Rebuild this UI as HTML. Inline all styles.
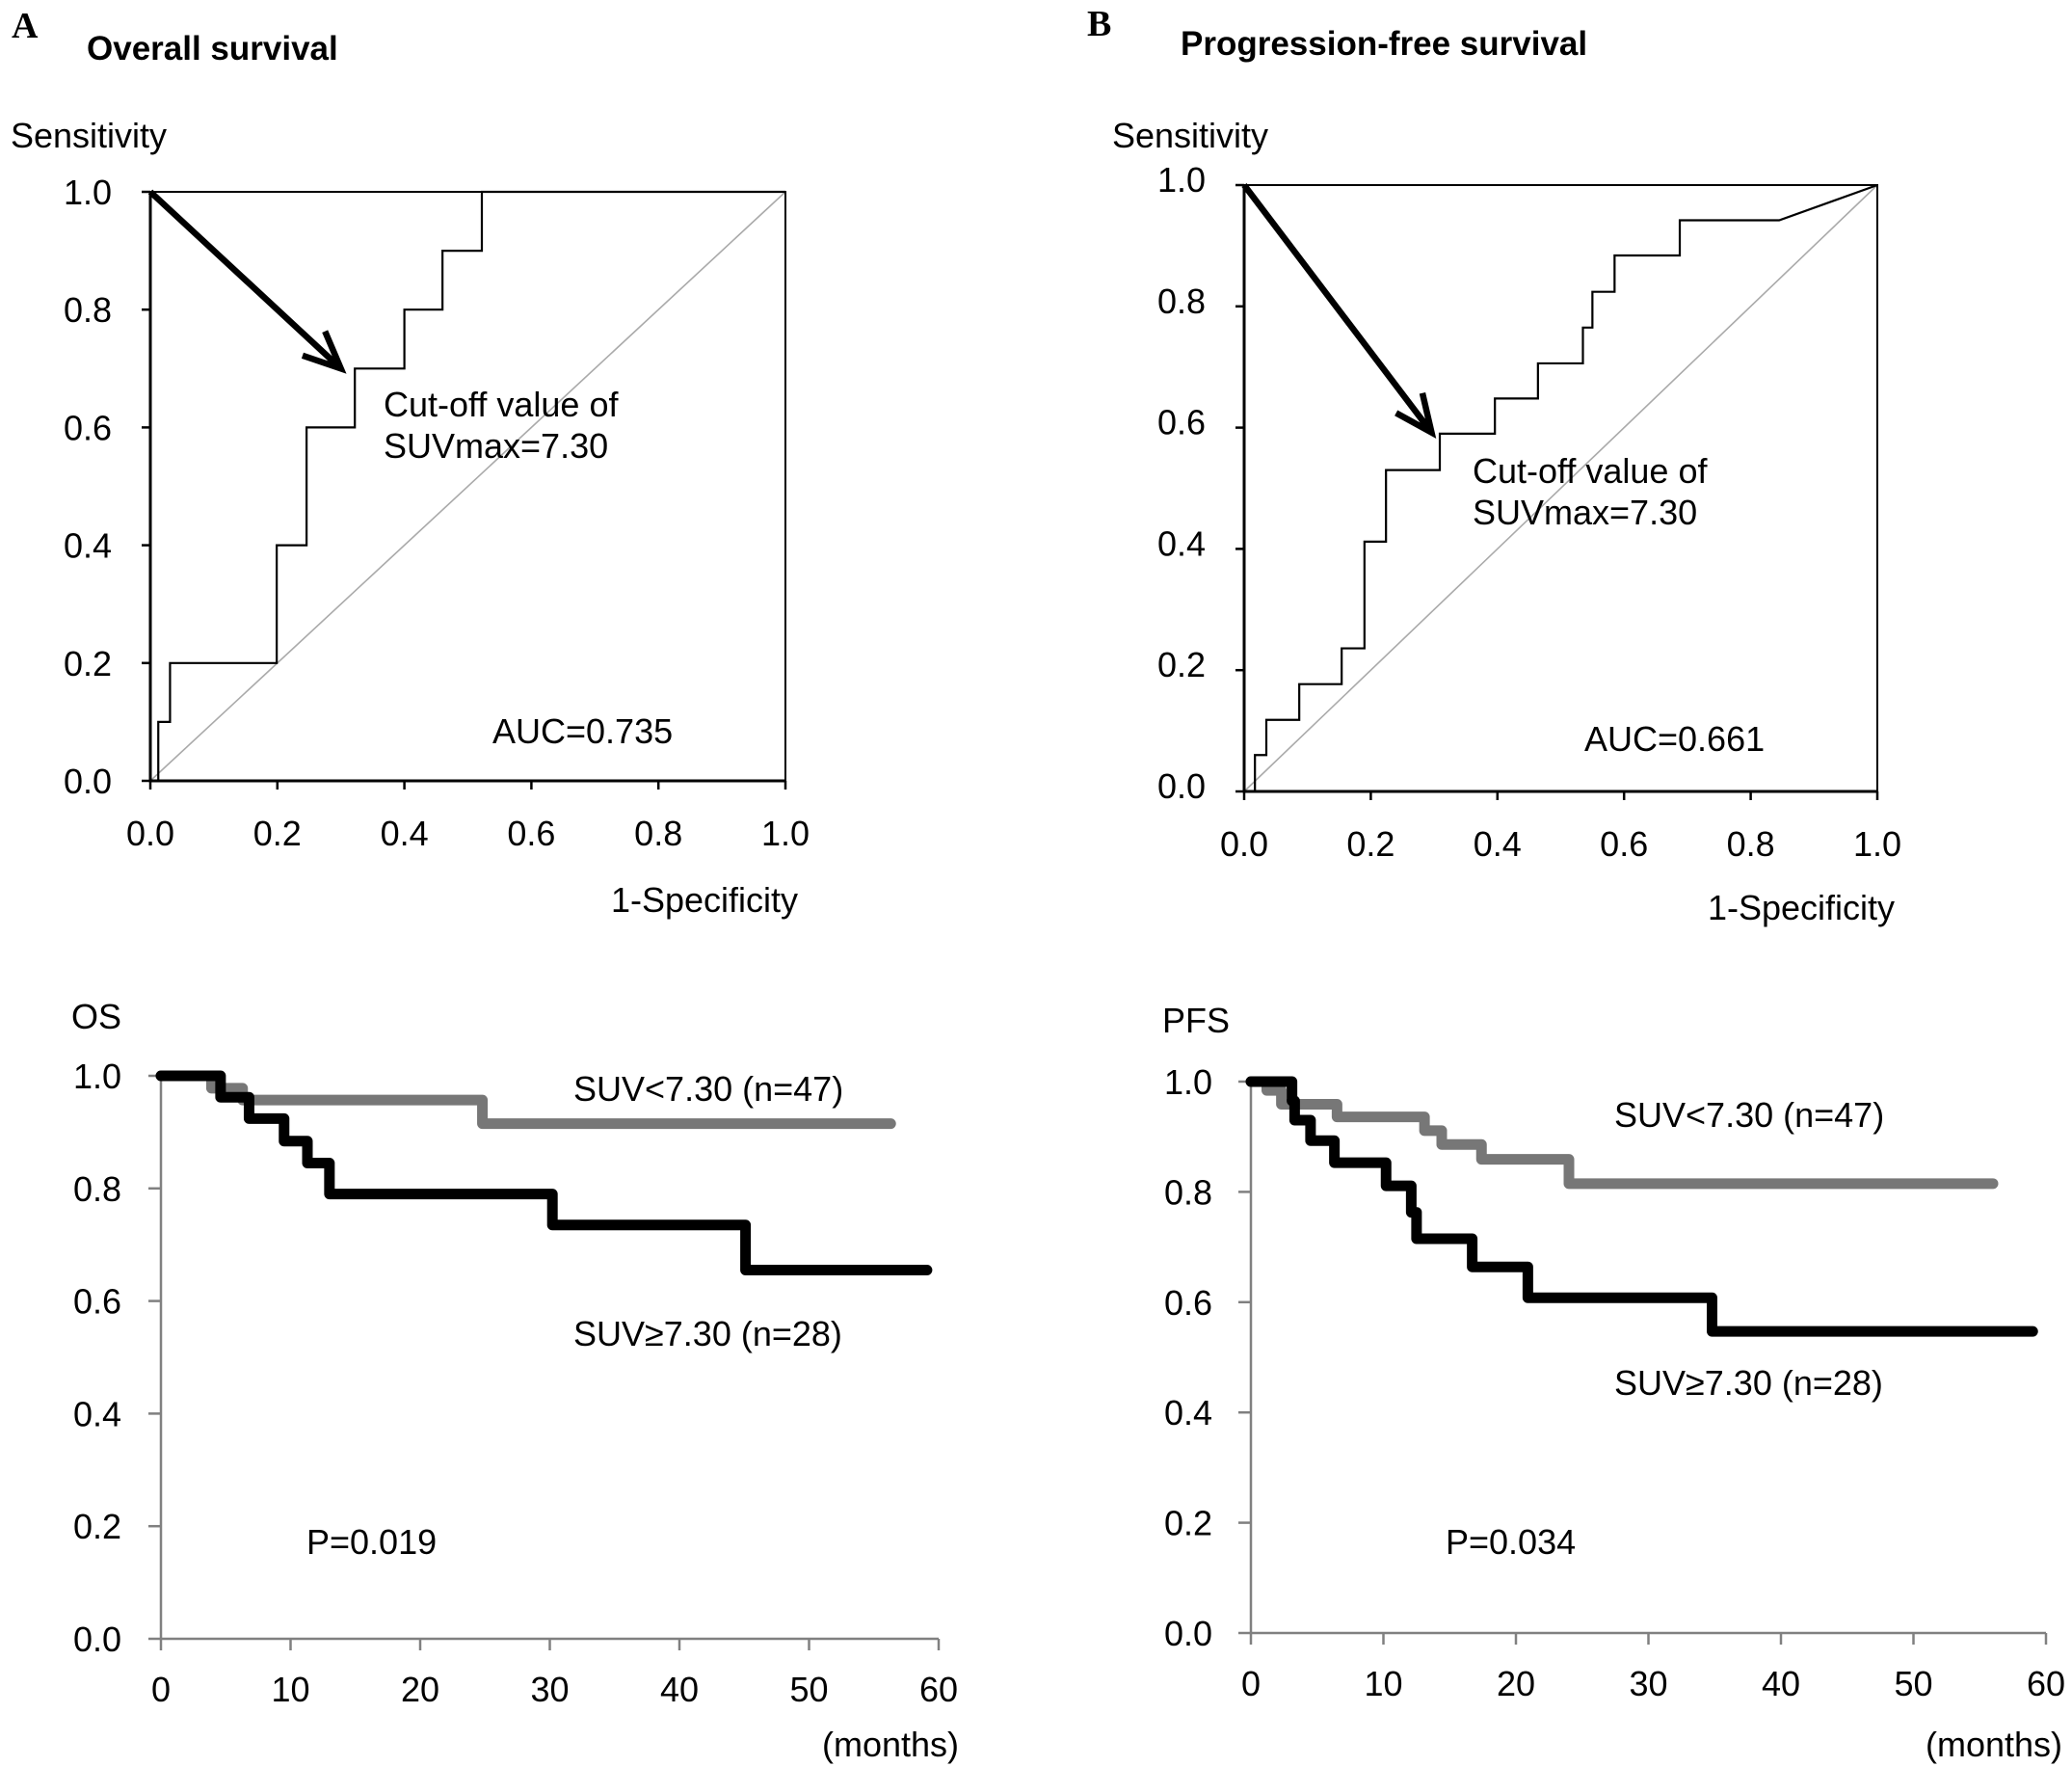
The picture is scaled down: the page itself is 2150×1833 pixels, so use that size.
<!DOCTYPE html>
<html><head><meta charset="utf-8">
<style>
html,body{margin:0;padding:0;background:#fff;}
svg{display:block;}
text{font-family:"Liberation Sans",Arial,sans-serif;fill:#000;}
</style></head>
<body>
<svg id="fig" width="2150" height="1833" viewBox="0 0 2150 1833" xmlns="http://www.w3.org/2000/svg">
<text x="12" y="39" style="font-family:'Liberation Serif',serif;font-weight:bold;font-size:38px">A</text>
<text x="90" y="62" style="font-weight:bold;font-size:35px">Overall survival</text>
<text x="1128" y="37" style="font-family:'Liberation Serif',serif;font-weight:bold;font-size:38px">B</text>
<text x="1225" y="57" style="font-weight:bold;font-size:35px">Progression-free survival</text>
</svg>
<script>
// ---- data ----
const rocTicks = ["0.0","0.2","0.4","0.6","0.8","1.0"];
const kmXTicks = ["0","10","20","30","40","50","60"];
const kmYTicks = ["0.0","0.2","0.4","0.6","0.8","1.0"];
const rocA_fpr = [0.0125,0.0125,0.031,0.031,0.199,0.199,0.246,0.246,0.322,0.322,0.40,0.40,0.46,0.46,0.522,0.522,1.0];
const rocA_tpr = [0.0,0.1,0.1,0.2,0.2,0.4,0.4,0.6,0.6,0.7,0.7,0.8,0.8,0.9,0.9,1.0,1.0];
const rocB_fpr = [0.017,0.017,0.035,0.035,0.087,0.087,0.154,0.154,0.19,0.19,0.224,0.224,0.309,0.309,0.396,0.396,0.464,0.464,0.535,0.535,0.55,0.55,0.585,0.585,0.688,0.688,0.845,1.0];
const rocB_tpr = [0.0,0.06,0.06,0.118,0.118,0.177,0.177,0.236,0.236,0.412,0.412,0.53,0.53,0.59,0.59,0.648,0.648,0.706,0.706,0.765,0.765,0.824,0.824,0.884,0.884,0.942,0.942,1.0];
const arrowA = [0.30,0.70];
const arrowB = [0.296,0.592];
const osLow_t = [0,3.9,6.3,24.8,56.3];
const osLow_s = [1.0,0.978,0.957,0.915,0.915];
const osHigh_t = [0,4.6,6.8,9.5,11.3,13.0,30.2,45.1,59.1];
const osHigh_s = [1.0,0.962,0.924,0.884,0.845,0.79,0.735,0.655,0.655];
const pfsLow_t = [0,1.2,2.3,6.5,13.1,14.4,17.4,24.0,56.0];
const pfsLow_s = [1.0,0.984,0.959,0.936,0.911,0.886,0.859,0.815,0.815];
const pfsHigh_t = [0,3.1,3.3,4.5,6.3,10.2,12.1,12.5,16.7,20.9,34.8,59.0];
const pfsHigh_s = [1.0,0.965,0.93,0.893,0.853,0.811,0.763,0.715,0.664,0.608,0.547,0.547];

const NS="http://www.w3.org/2000/svg";
const svg=document.getElementById('fig');
const FS=36;
function mk(tag,attrs,parent){const e=document.createElementNS(NS,tag);for(const k in attrs)e.setAttribute(k,attrs[k]);(parent||svg).appendChild(e);return e;}
function txt(s,x,y,size,anchor,parent){const t=mk('text',{x:x,y:y,'font-size':size,'text-anchor':anchor||'start'},parent);t.textContent=s;return t;}
function stepPath(xs,ys,sx,sy,stepwise){let d='M'+sx(xs[0])+','+sy(ys[0]);for(let i=1;i<xs.length;i++){if(stepwise){d+=' L'+sx(xs[i])+','+sy(ys[i-1])+' L'+sx(xs[i])+','+sy(ys[i]);}else d+=' L'+sx(xs[i])+','+sy(ys[i]);}return d;}

function roc(name,box,fpr,tpr,arrow,opts){
  const g=mk('g',{});
  
  
  const sx=v=>box.x0+v*(box.x1-box.x0), sy=v=>box.y0-v*(box.y0-box.y1);
  const diag=mk('line',{x1:sx(0),y1:sy(0),x2:sx(1),y2:sy(1),stroke:'#aaa','stroke-width':1.6},g);
  
  
  const fr=mk('path',{d:`M${sx(0)},${sy(1)} L${sx(1)},${sy(1)} L${sx(1)},${sy(0)}`,fill:'none',stroke:'#000','stroke-width':2},g);
  
  
  const ax=mk('path',{d:`M${sx(0)},${sy(1)} L${sx(0)},${sy(0)} L${sx(1)},${sy(0)}`,fill:'none',stroke:'#000','stroke-width':3},g);
  
  
  rocTicks.forEach((t,i)=>{const v=i/5;
    mk('line',{x1:sx(0)-9,y1:sy(v),x2:sx(0),y2:sy(v),stroke:'#000','stroke-width':2.5},g);
    mk('line',{x1:sx(v),y1:sy(0),x2:sx(v),y2:sy(0)+9,stroke:'#000','stroke-width':2.5},g);
    const yl=txt(t,box.x0-40,sy(v)+13+opts.yoff,FS,'end',g);
    
    
    const xl=txt(t,sx(v),opts.xtb,FS,'middle',g);
    
    
  });
  const c=mk('path',{d:stepPath(fpr,tpr,sx,sy,false),fill:'none',stroke:'#000','stroke-width':2.2},g);
  
  
  const x0=sx(0),y0=sy(1),x1=sx(arrow[0]),y1=sy(arrow[1]);
  const ang=Math.atan2(y1-y0,x1-x0),L=42,sp=0.42;
  const a=mk('path',{d:`M${x0},${y0} L${x1},${y1} M${x1-L*Math.cos(ang-sp)},${y1-L*Math.sin(ang-sp)} L${x1},${y1} L${x1-L*Math.cos(ang+sp)},${y1-L*Math.sin(ang+sp)}`,fill:'none',stroke:'#000','stroke-width':6.5,'stroke-linecap':'butt','stroke-linejoin':'miter'},g);
  
  
  const s=txt('Sensitivity',opts.sens[0],opts.sens[1],FS,'start',g);
  
  
  const xs=txt('1-Specificity',opts.spec[0],opts.spec[1],FS,'end',g);
  
  
  const c1=txt('Cut-off value of',opts.cut[0],opts.cut[1],FS,'start',g);
  
  
  const c2=txt('SUVmax=7.30',opts.cut[0],opts.cut[1]+43,FS,'start',g);
  
  
  const au=txt(opts.auc,opts.aucp[0],opts.aucp[1],FS,'start',g);
  
  
}

function km(name,box,lt,ls,ht,hs,opts){
  const g=mk('g',{});
  
  
  const sx=v=>box.x0+v/60*(box.x1-box.x0), sy=v=>box.y0-v*(box.y0-box.y1);
  const ax=mk('path',{d:`M${sx(0)},${sy(1)} L${sx(0)},${sy(0)} L${sx(60)},${sy(0)}`,fill:'none',stroke:'#808080','stroke-width':2.5},g);
  
  
  kmYTicks.forEach((t,i)=>{const v=i/5;
    mk('line',{x1:sx(0)-13,y1:sy(v),x2:sx(0),y2:sy(v),stroke:'#808080','stroke-width':2.5},g);
    const yl=txt(t,opts.yr,sy(v)+13,FS,'end',g);
    
    
  });
  kmXTicks.forEach((t,i)=>{const v=i*10;
    mk('line',{x1:sx(v),y1:sy(0),x2:sx(v),y2:sy(0)+12,stroke:'#808080','stroke-width':2.5},g);
    const xl=txt(t,sx(v),opts.xtb,FS,'middle',g);
    
    
  });
  const lo=mk('path',{d:stepPath(lt,ls,sx,sy,true),fill:'none',stroke:'#777','stroke-width':11,'stroke-linecap':'round','stroke-linejoin':'round'},g);
  
  
  const hi=mk('path',{d:stepPath(ht,hs,sx,sy,true),fill:'none',stroke:'#000','stroke-width':11,'stroke-linecap':'round','stroke-linejoin':'round'},g);
  
  
  const yt=txt(opts.ytitle,opts.yt[0],opts.yt[1],FS,'start',g);
  
  
  const mo=txt('(months)',opts.mo[0],opts.mo[1],FS,'end',g);
  
  
  const l1=txt('SUV<7.30 (n=47)',opts.l1[0],opts.l1[1],FS,'start',g);
  
  
  const l2=txt('SUV\u22657.30 (n=28)',opts.l2[0],opts.l2[1],FS,'start',g);
  
  
  const p=txt(opts.p,opts.pp[0],opts.pp[1],FS,'start',g);
  
  
}

roc('roc-chart-os',{x0:156,x1:815,y0:810,y1:199},rocA_fpr,rocA_tpr,arrowA,
  {yoff:0,xtb:877,sens:[11,153],spec:[828,946],cut:[398,432],auc:'AUC=0.735',aucp:[511,771]});
roc('roc-chart-pfs',{x0:1291,x1:1948,y0:821,y1:192},rocB_fpr,rocB_tpr,arrowB,
  {yoff:-6,xtb:888,sens:[1154,153],spec:[1966,954],cut:[1528,501],auc:'AUC=0.661',aucp:[1644,779]});
km('km-chart-os',{x0:167,x1:974,y0:1700,y1:1116},osLow_t,osLow_s,osHigh_t,osHigh_s,
  {yr:126,xtb:1765,ytitle:'OS',yt:[74,1067],mo:[995,1822],l1:[595,1142],l2:[595,1396],p:'P=0.019',pp:[318,1612]});
km('km-chart-pfs',{x0:1298,x1:2123,y0:1694,y1:1122},pfsLow_t,pfsLow_s,pfsHigh_t,pfsHigh_s,
  {yr:1258,xtb:1759,ytitle:'PFS',yt:[1206,1071],mo:[2140,1822],l1:[1675,1169],l2:[1675,1447],p:'P=0.034',pp:[1500,1612]});
</script>
</body></html>
